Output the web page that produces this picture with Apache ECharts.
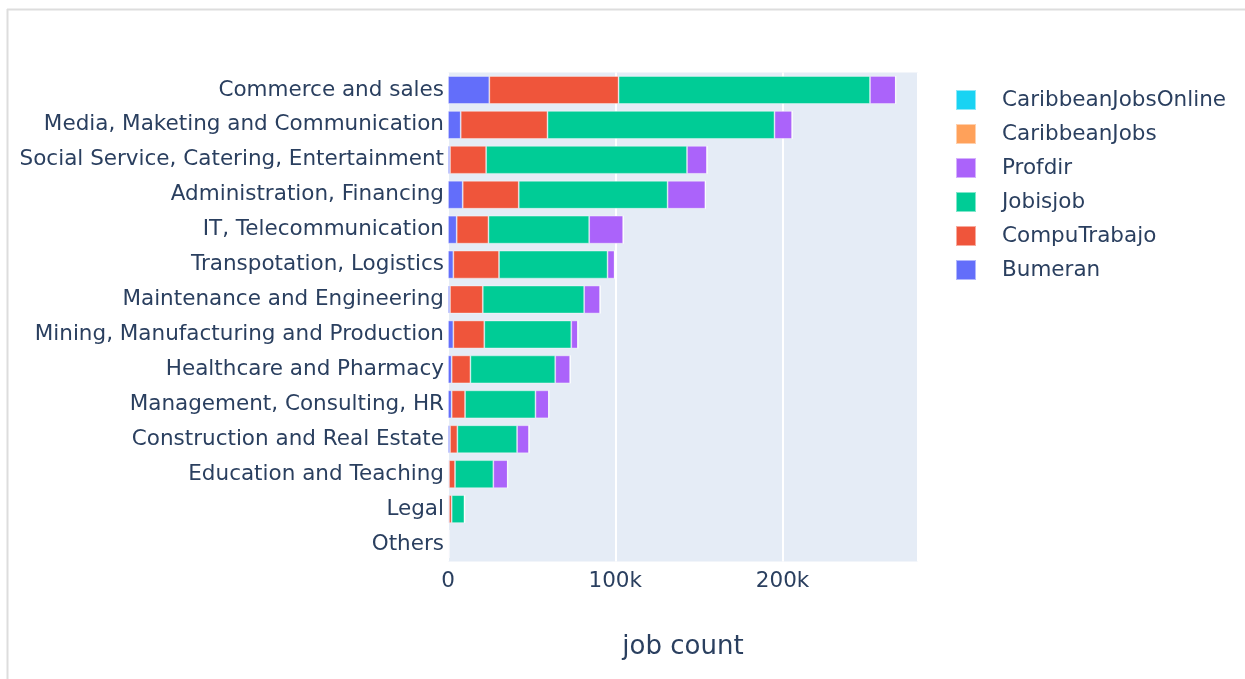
<!DOCTYPE html>
<html>
<head>
<meta charset="utf-8">
<script src="https://cdn.jsdelivr.net/npm/echarts@6/dist/echarts.min.js"></script>
<style>
html,body{margin:0;padding:0;background:#fff;}
#chart{width:1245px;height:679px;}
</style>
</head>
<body>
<div id="chart"></div>
<script>
const categories = [
  "Commerce and sales",
  "Media, Maketing and Communication",
  "Social Service, Catering, Entertainment",
  "Administration, Financing",
  "IT, Telecommunication",
  "Transpotation, Logistics",
  "Maintenance and Engineering",
  "Mining, Manufacturing and Production",
  "Healthcare and Pharmacy",
  "Management, Consulting, HR",
  "Construction and Real Estate",
  "Education and Teaching",
  "Legal",
  "Others"
];
const bumeran      = [24700, 7600, 1200, 8800, 5200, 3200, 1200, 3200, 2200, 2200, 1200, 600, 600, 100];
const compuTrabajo = [77300, 51900, 21600, 33500, 19000, 27300, 19600, 18500, 11200, 8000, 4400, 3600, 1600, 0];
const jobisjob     = [150300, 135700, 120100, 89000, 60200, 64900, 60600, 52000, 50700, 42100, 35700, 22900, 7600, 0];
const profdir      = [15400, 10600, 12000, 22600, 20400, 4200, 9600, 4000, 9000, 8000, 7200, 8600, 200, 500];
const caribbeanJobs       = [0, 0, 0, 0, 0, 0, 0, 0, 0, 0, 0, 0, 0, 0];
const caribbeanJobsOnline = [0, 0, 0, 0, 0, 0, 0, 0, 0, 0, 0, 0, 0, 0];
const xTicks = [0, 100000, 200000];

const seriesDefs = [
  {name: "Bumeran", data: bumeran, color: "#636efa"},
  {name: "CompuTrabajo", data: compuTrabajo, color: "#EF553B"},
  {name: "Jobisjob", data: jobisjob, color: "#00cc96"},
  {name: "Profdir", data: profdir, color: "#ab63fa"},
  {name: "CaribbeanJobs", data: caribbeanJobs, color: "#FFA15A"},
  {name: "CaribbeanJobsOnline", data: caribbeanJobsOnline, color: "#19d3f3"}
];

const FONT = "DejaVu Sans";
const FS = 21.5;
const chart = echarts.init(document.getElementById('chart'), null, {renderer: 'canvas'});
chart.setOption({
  animation: false,
  backgroundColor: '#ffffff',
  textStyle: {fontFamily: FONT},
  graphic: [
    {type: 'line', shape: {x1: 7, y1: 9.5, x2: 1245, y2: 9.5}, style: {stroke: '#dddddd', lineWidth: 2}, silent: true},
    {type: 'line', shape: {x1: 7.5, y1: 9, x2: 7.5, y2: 679}, style: {stroke: '#dddddd', lineWidth: 2}, silent: true},
    {type: 'rect', shape: {x: 448, y: 72.5, width: 470, height: 489}, style: {fill: '#E5ECF6'}, z: -1, silent: true}
  ],
  legend: {
    orient: 'vertical',
    left: 950,
    top: 84,
    itemWidth: 20,
    itemHeight: 20,
    itemGap: 12,
    icon: 'rect',
    data: ["CaribbeanJobsOnline", "CaribbeanJobs", "Profdir", "Jobisjob", "CompuTrabajo", "Bumeran"],
    textStyle: {fontFamily: FONT, fontSize: FS, lineHeight: 20, color: '#2a3f5f', padding: [0, 0, 0, 21]}
  },
  grid: {left: 448, right: 327, top: 72.5, bottom: 117.5, containLabel: false},
  xAxis: {
    type: 'value',
    min: 0,
    max: 281000,
    interval: 100000,
    name: 'job count',
    nameLocation: 'middle',
    nameGap: 73,
    nameTextStyle: {fontFamily: FONT, fontSize: 26, color: '#2a3f5f'},
    axisLine: {show: false},
    axisTick: {show: false},
    axisLabel: {
      fontFamily: FONT, fontSize: FS, color: '#2a3f5f', margin: 9,
      showMaxLabel: false,
      formatter: function (v) { return xTicks.indexOf(v) < 0 ? '' : (v === 0 ? '0' : (v / 1000) + 'k'); }
    },
    splitLine: {show: true, lineStyle: {color: '#ffffff', width: 2}}
  },
  yAxis: {
    type: 'category',
    data: categories,
    inverse: true,
    axisLine: {show: false},
    axisTick: {show: false},
    splitLine: {show: false},
    axisLabel: {fontFamily: FONT, fontSize: FS, color: '#2a3f5f', margin: 4}
  },
  series: seriesDefs.map(s => ({
    name: s.name,
    type: 'bar',
    stack: 'total',
    data: s.data,
    barCategoryGap: '20%',
    itemStyle: {color: s.color, borderColor: 'rgba(255,255,255,0.5)', borderWidth: 0.8},
    emphasis: {disabled: true}
  }))
});
</script>
</body>
</html>
